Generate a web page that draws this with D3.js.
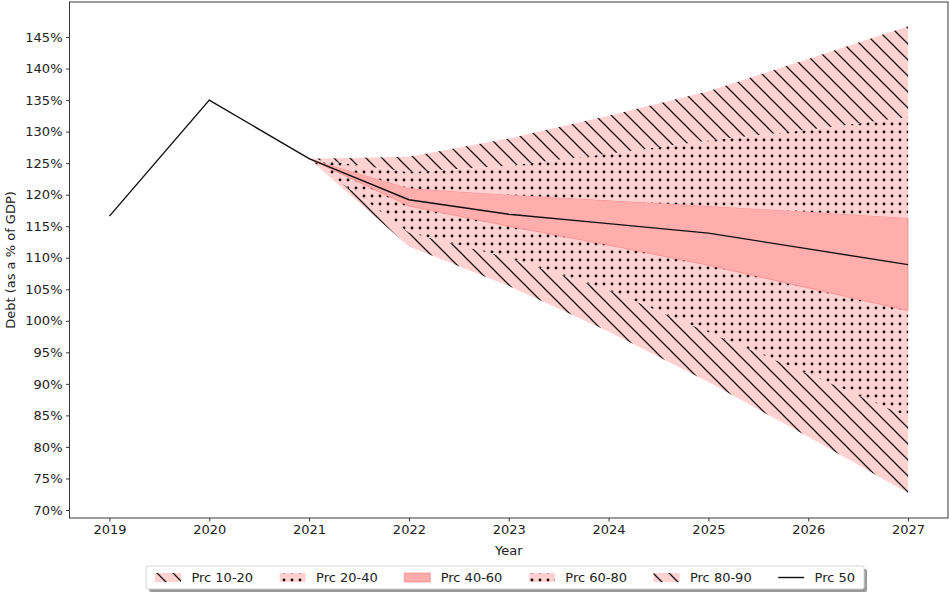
<!DOCTYPE html>
<html>
<head>
<meta charset="utf-8">
<script src="https://cdn.jsdelivr.net/npm/d3@7"></script>
<style>
  html, body { margin: 0; padding: 0; background: #fff; }
  svg { display: block; font-family: "DejaVu Sans", sans-serif; }
</style>
</head>
<body>
<svg id="chart" width="949" height="592"></svg>
<script>
// ---- data ----
const years = [2019, 2020, 2021, 2022, 2023, 2024, 2025, 2026, 2027];
const median = [116.6, 135.0, 125.7, 119.2, 116.9, 115.4, 113.9, 111.4, 108.9];

const bandYears = [2021, 2022, 2023, 2024, 2025, 2026, 2027];
const p10 = [125.7, 111.8, 105.5, 98.3, 90.3, 81.6, 72.7];
const p20 = [125.7, 114.0, 110.0, 104.9, 98.2, 91.6, 84.8];
const p40 = [125.7, 118.2, 115.0, 112.0, 108.8, 105.2, 101.6];
const p60 = [125.7, 121.0, 120.0, 119.1, 118.2, 117.3, 116.3];
const p80 = [125.7, 123.6, 124.6, 126.5, 128.6, 130.3, 132.3];
const p90 = [125.7, 126.0, 128.9, 132.5, 136.4, 141.5, 146.7];

const yTicks = [70, 75, 80, 85, 90, 95, 100, 105, 110, 115, 120, 125, 130, 135, 140, 145];
const xTicks = years;
const legendLabels = ["Prc 10-20", "Prc 20-40", "Prc 40-60", "Prc 60-80", "Prc 80-90", "Prc 50"];

(function () {
// ---- setup ----
const svg = d3.select("#chart");
const mLeft = 69.5, mRight = 948, mTop = 2, mBottom = 518;
const x = d3.scaleLinear().domain([2018.6, 2027.4]).range([mLeft, mRight]);
const y = d3.scaleLinear().domain([68.73, 150.55]).range([mBottom, mTop]);

const lightPink = "#ffd1d1";
const midPink = "#ffadad";

const defs = svg.append("defs");
const H = 16;
const hatch = defs.append("pattern").attr("id", "hatch")
  .attr("patternUnits", "userSpaceOnUse").attr("width", H).attr("height", H);
hatch.append("path").attr("d", `M0,0 L${H},${H} M-3,${H-3} L3,${H+3} M${H-3},-3 L${H+3},3`)
  .attr("stroke", "#111").attr("stroke-width", 1.25).attr("fill", "none");
const dots = defs.append("pattern").attr("id", "dots")
  .attr("patternUnits", "userSpaceOnUse").attr("width", 8).attr("height", 8);
dots.append("circle").attr("cx", 4).attr("cy", 4).attr("r", 1.45).attr("fill", "#111");

const bands = [
  { lo: p10, hi: p20, fill: lightPink, pat: "hatch", stroke: null },
  { lo: p20, hi: p40, fill: lightPink, pat: "dots", stroke: null },
  { lo: p40, hi: p60, fill: midPink, pat: null, stroke: "rgba(240,90,90,0.45)" },
  { lo: p60, hi: p80, fill: lightPink, pat: "dots", stroke: null },
  { lo: p80, hi: p90, fill: lightPink, pat: "hatch", stroke: null }
];

const area = d3.area()
  .x(d => x(d.year)).y0(d => y(d.lo)).y1(d => y(d.hi));

bands.forEach(b => {
  const data = bandYears.map((yr, i) => ({ year: yr, lo: b.lo[i], hi: b.hi[i] }));
  svg.append("path").attr("d", area(data)).attr("fill", b.fill)
    .attr("stroke", b.stroke || "none").attr("stroke-width", 1);
  if (b.pat) {
    svg.append("path").attr("d", area(data)).attr("fill", `url(#${b.pat})`);
  }
});

// median line
const line = d3.line().x((d, i) => x(years[i])).y(d => y(d));
svg.append("path").attr("d", line(median)).attr("fill", "none")
  .attr("stroke", "#111").attr("stroke-width", 1.4);

// ---- axes ----
const yAxis = d3.axisLeft(y).tickValues(yTicks).tickSize(3.5).tickPadding(3.5)
  .tickFormat(d => d + "%");
const gy = svg.append("g").attr("transform", `translate(${mLeft},0)`).call(yAxis);
const xAxis = d3.axisBottom(x).tickValues(xTicks).tickSize(3.5).tickPadding(3.5)
  .tickFormat(d3.format("d"));
const gx = svg.append("g").attr("transform", `translate(0,${mBottom})`).call(xAxis);
[gx, gy].forEach(g => {
  g.select(".domain").remove();
  g.selectAll(".tick line").attr("stroke", "#222").attr("stroke-width", 0.9);
  g.selectAll(".tick text").attr("fill", "#222").style("font-size", "13px")
    .style("font-family", "DejaVu Sans");
});

svg.append("rect").attr("x", mLeft).attr("y", mTop)
  .attr("width", mRight - mLeft).attr("height", mBottom - mTop)
  .attr("fill", "none").attr("stroke", "#222").attr("stroke-width", 0.9);

svg.append("text").attr("x", (mLeft + mRight) / 2).attr("y", 555)
  .attr("text-anchor", "middle").style("font-size", "13px").attr("fill", "#222")
  .text("Year");
svg.append("text").attr("transform", `translate(15,${(mTop + mBottom) / 2}) rotate(-90)`)
  .attr("text-anchor", "middle").style("font-size", "13px").attr("fill", "#222")
  .text("Debt (as a % of GDP)");

// ---- legend ----
const lg = svg.append("g");
const legTop = 566, legH = 23;
const handleW = 26, handleH = 9, pad = 10.4, colSp = 26.5;
let cx = 155;
legendLabels.forEach((lab, i) => {
  const g = lg.append("g");
  const hy = legTop + legH / 2 - handleH / 2;
  if (i < 5) {
    const b = bands[i];
    g.append("rect").attr("x", cx).attr("y", hy).attr("width", handleW).attr("height", handleH)
      .attr("fill", b.fill).attr("stroke", b.stroke || "none");
    if (b.pat) g.append("rect").attr("x", cx).attr("y", hy).attr("width", handleW)
      .attr("height", handleH).attr("fill", `url(#${b.pat})`);
  } else {
    g.append("line").attr("x1", cx).attr("x2", cx + handleW)
      .attr("y1", legTop + legH / 2).attr("y2", legTop + legH / 2)
      .attr("stroke", "#111").attr("stroke-width", 1.4);
  }
  const t = g.append("text").attr("x", cx + handleW + pad).attr("y", legTop + legH / 2)
    .attr("dy", "0.35em").style("font-size", "13px").attr("fill", "#222").text(lab);
  const w = t.node().getComputedTextLength();
  cx = cx + handleW + pad + w + colSp;
});
const legRight = cx - colSp + 9;
lg.insert("rect", ":first-child").attr("x", 146).attr("y", legTop)
  .attr("width", legRight - 146).attr("height", legH).attr("rx", 2)
  .attr("fill", "#fff").attr("stroke", "#cfcfcf").attr("stroke-width", 0.9);
lg.insert("rect", ":first-child").attr("x", 149).attr("y", legTop + 3)
  .attr("width", legRight - 146).attr("height", legH).attr("rx", 2)
  .attr("fill", "#9a9a9a");
})();
</script>
</body>
</html>
